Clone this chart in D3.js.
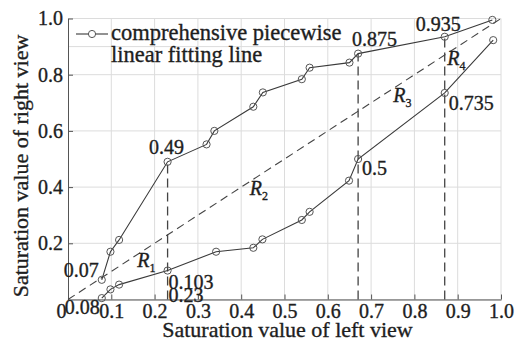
<!DOCTYPE html>
<html>
<head>
<meta charset="utf-8">
<script src="https://cdn.jsdelivr.net/npm/d3@7"></script>
<style>
  body { margin: 0; background: #fff; }
  svg { display: block; }
</style>
</head>
<body>
<svg id="chart" width="515" height="343"></svg>
<script>
// tick values
var xTicks = [0, 0.1, 0.2, 0.3, 0.4, 0.5, 0.6, 0.7, 0.8, 0.9, 1.0];
var yTicks = [0.2, 0.4, 0.6, 0.8, 1.0];
var yGrid = [0, 0.2, 0.4, 0.6, 0.8, 1.0];

// upper fitting line
var upperX = [0.078, 0.098, 0.118, 0.23, 0.32, 0.338, 0.428, 0.45, 0.54, 0.558, 0.65, 0.67, 0.87, 0.98];
var upperY = [0.07, 0.17, 0.212, 0.49, 0.552, 0.6, 0.686, 0.737, 0.784, 0.825, 0.843, 0.875, 0.935, 0.995];

// lower fitting line
var lowerX = [0.078, 0.098, 0.118, 0.23, 0.342, 0.428, 0.449, 0.54, 0.558, 0.649, 0.67, 0.87, 0.982];
var lowerY = [0.005, 0.036, 0.053, 0.103, 0.17, 0.184, 0.214, 0.283, 0.312, 0.423, 0.5, 0.735, 0.923];

// vertical split lines (x, top value)
var splitX = [0.23, 0.67, 0.87];
var splitTop = [0.49, 0.875, 0.935];

// annotation texts
var upperLabels = {0: "0.07", 3: "0.49", 11: "0.875", 12: "0.935"};
var lowerLabels = {0: "0.08", 3: "0.103", 10: "0.5", 11: "0.735"};
var splitLabel = "0.23";

// region labels
var regionNames = ["1", "2", "3", "4"];
var regionX = [0.16, 0.42, 0.751, 0.876];
var regionY = [0.116, 0.372, 0.703, 0.835];

var legendLines = ["comprehensive piecewise", "linear fitting line"];
var xTitle = "Saturation value of left view";
var yTitle = "Saturation value of right view";

var FONT = "Liberation Serif";
var INK = "#1e1e1e";

var margin = {top: 18.5, right: 14, bottom: 43.5, left: 68};
var svg = d3.select("#chart");
var width = +svg.attr("width") - margin.left - margin.right;
var height = +svg.attr("height") - margin.top - margin.bottom;

var x = d3.scaleLinear().domain([0, 1]).range([0, width]);
var y = d3.scaleLinear().domain([0, 1]).range([height, 0]);

var g = svg.append("g")
    .attr("transform", "translate(" + margin.left + "," + margin.top + ")");

// grid
var grid = g.append("g").attr("stroke", "#dcdcdc").attr("stroke-width", 1);
grid.selectAll(".gx")
    .data(xTicks.slice(1))
    .enter().append("line")
    .attr("x1", d => x(d)).attr("x2", d => x(d))
    .attr("y1", 0).attr("y2", height);
grid.selectAll(".gy")
    .data(yGrid)
    .enter().append("line")
    .attr("x1", 0).attr("x2", width)
    .attr("y1", d => y(d)).attr("y2", d => y(d));
// legend frame edge
grid.append("line")
    .attr("x1", 0).attr("x2", x(0.72))
    .attr("y1", y(0.9)).attr("y2", y(0.9));

// axes
var xAxis = d3.axisBottom(x).tickValues(xTicks)
    .tickFormat(d => d === 0 ? "0" : d3.format(".1f")(d))
    .tickSizeInner(-5).tickSizeOuter(0).tickPadding(4);
var yAxis = d3.axisLeft(y).tickValues(yTicks)
    .tickFormat(d3.format(".1f"))
    .tickSizeInner(-5).tickSizeOuter(0).tickPadding(5);

var gx = g.append("g")
    .attr("transform", "translate(0," + height + ")")
    .call(xAxis)
    .attr("font-family", FONT).attr("font-size", 20);
gx.selectAll(".tick text").filter(d => d === 0).attr("dx", -7);

var gy = g.append("g")
    .call(yAxis)
    .attr("font-family", FONT).attr("font-size", 20);

[gx, gy].forEach(a => {
    a.selectAll("path, line").attr("stroke", "#555");
    a.selectAll("text").attr("fill", INK)
        .attr("stroke", INK).attr("stroke-width", 0.35);
});

// diagonal
g.append("line")
    .attr("x1", x(0)).attr("y1", y(0))
    .attr("x2", x(1)).attr("y2", y(1))
    .attr("stroke", "#444").attr("stroke-width", 1.1)
    .attr("stroke-dasharray", "8,5");

// vertical split lines
g.selectAll(".split")
    .data(splitX)
    .enter().append("line")
    .attr("class", "split")
    .attr("x1", d => x(d)).attr("x2", d => x(d))
    .attr("y1", y(0)).attr("y2", (d, i) => y(splitTop[i]))
    .attr("stroke", "#444").attr("stroke-width", 1.3)
    .attr("stroke-dasharray", "9,5");

// fitting lines
var line = d3.line().x(d => x(d[0])).y(d => y(d[1]));
var upper = upperX.map((v, i) => [v, upperY[i]]);
var lower = lowerX.map((v, i) => [v, lowerY[i]]);

[upper, lower].forEach(series => {
    g.append("path")
        .datum(series)
        .attr("fill", "none")
        .attr("stroke", "#3a3a3a")
        .attr("stroke-width", 1.1)
        .attr("d", line);
    g.selectAll(null)
        .data(series)
        .enter().append("circle")
        .attr("cx", d => x(d[0]))
        .attr("cy", d => y(d[1]))
        .attr("r", 3.6)
        .attr("fill", "none")
        .attr("stroke", "#555")
        .attr("stroke-width", 1);
});

// point annotations (offsets in px)
var upperOffsets = {0: [-3, -3, "end"], 3: [-1, -8, "middle"], 11: [-6, -8, "start"], 12: [-29, -6, "start"]};
var lowerOffsets = {0: [-2, 16, "end"], 3: [1, 18, "start"], 10: [4, 16, "start"], 11: [4, 17, "start"]};

function serifText(sel, size) {
    return sel.attr("font-family", FONT).attr("font-size", size)
        .attr("fill", INK).attr("stroke", INK).attr("stroke-width", 0.35);
}

function annotate(series, labels, offsets) {
    Object.keys(labels).forEach(k => {
        var p = series[k], o = offsets[k];
        serifText(g.append("text"), 20)
            .attr("x", x(p[0]) + o[0])
            .attr("y", y(p[1]) + o[1])
            .attr("text-anchor", o[2])
            .text(labels[k]);
    });
}
annotate(upper, upperLabels, upperOffsets);
annotate(lower, lowerLabels, lowerOffsets);

serifText(g.append("text"), 20)
    .attr("x", x(splitX[0]) + 1)
    .attr("y", y(0) + 2)
    .text(splitLabel);

// region labels R1..R4
var regions = serifText(g.selectAll(".region")
    .data(regionNames)
    .enter().append("text"), 20)
    .attr("x", (d, i) => x(regionX[i]))
    .attr("y", (d, i) => y(regionY[i]));
regions.append("tspan")
    .attr("font-style", "italic")
    .text("R");
regions.append("tspan")
    .attr("font-size", 12)
    .attr("dy", 5)
    .text(d => d);

// legend
var legend = svg.append("g")
    .attr("transform", "translate(" + margin.left + "," + 34 + ")");
legend.append("line")
    .attr("x1", 8).attr("x2", 40)
    .attr("stroke", "#3a3a3a").attr("stroke-width", 1.1);
legend.append("circle")
    .attr("cx", 24).attr("r", 3.6)
    .attr("fill", "#fff").attr("stroke", "#555");
serifText(legend.selectAll(".lt")
    .data(legendLines)
    .enter().append("text"), 22.5)
    .attr("x", 43)
    .attr("y", (d, i) => 6 + i * 21.5)
    .text(d => d);

// axis titles
serifText(svg.append("text"), 22)
    .attr("x", margin.left + width / 2 + 3)
    .attr("y", 337)
    .attr("text-anchor", "middle")
    .text(xTitle);

serifText(svg.append("text"), 22)
    .attr("transform", "translate(28," + 166 + ") rotate(-90)")
    .attr("text-anchor", "middle")
    .text(yTitle);
</script>
</body>
</html>
